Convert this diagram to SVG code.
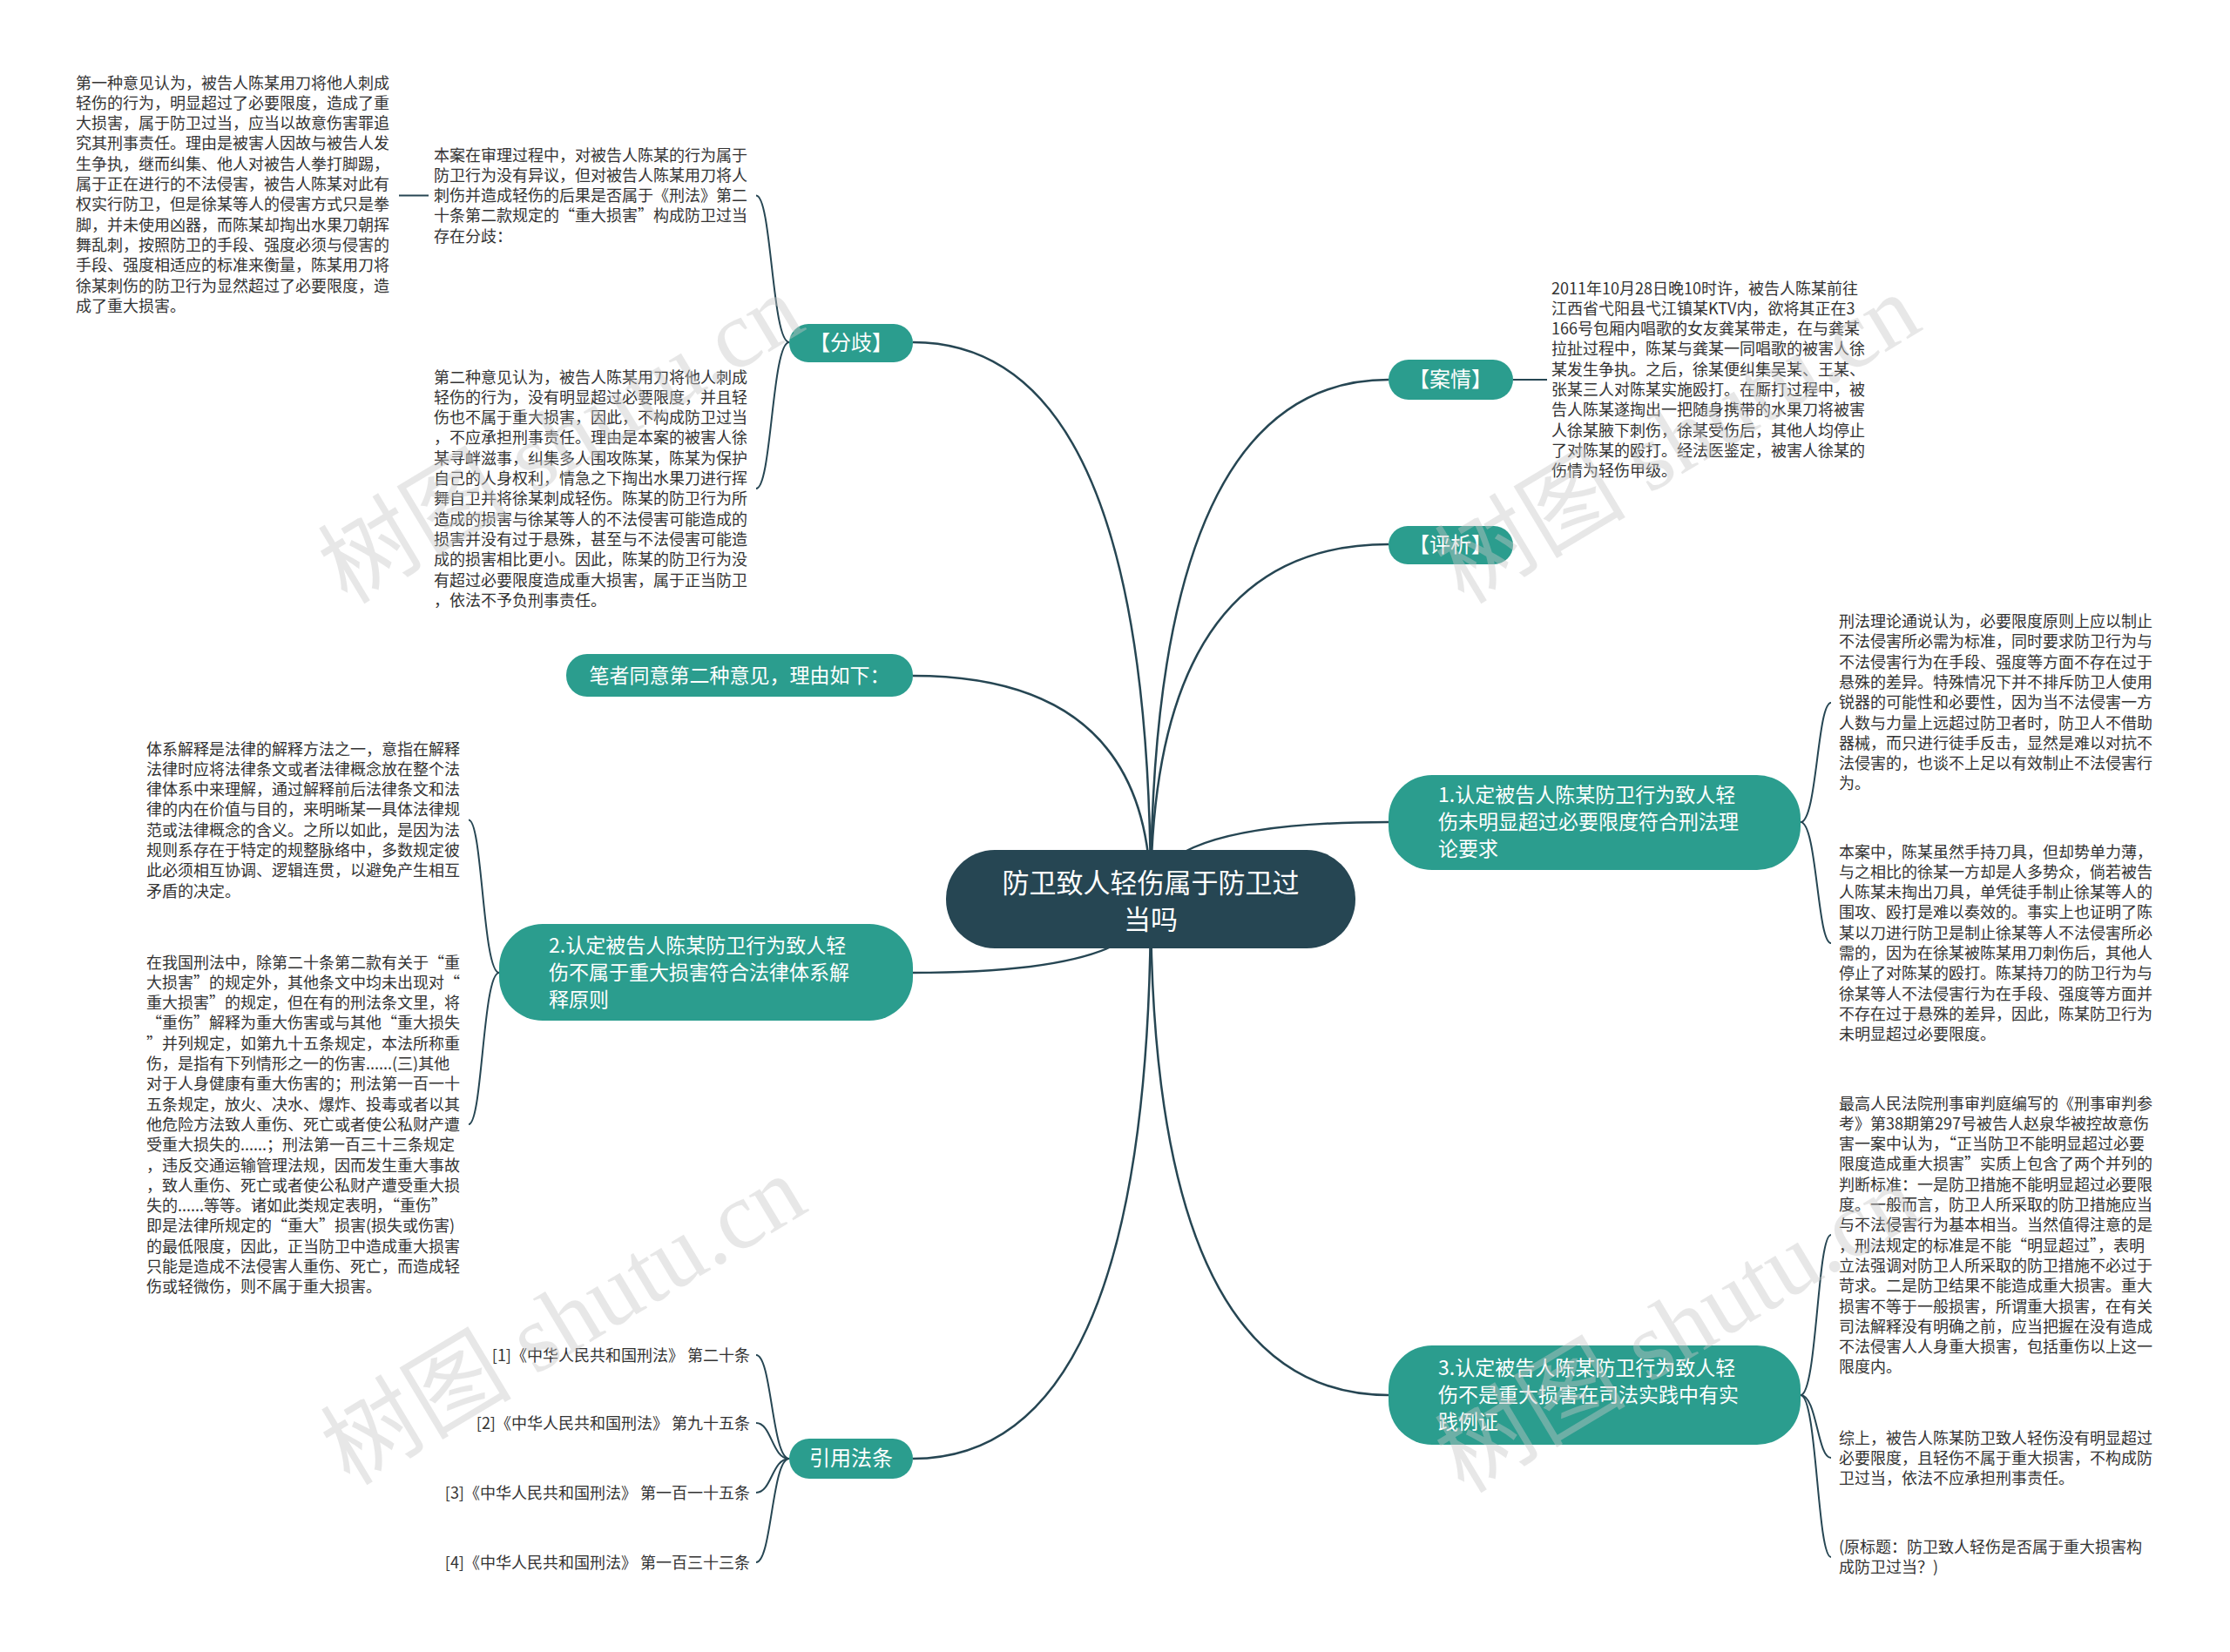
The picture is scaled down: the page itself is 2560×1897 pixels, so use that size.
<svg xmlns="http://www.w3.org/2000/svg" width="2560" height="1897" viewBox="0 0 2560 1897">
<style>
.bg{fill:#ffffff}
.t{font-family:"Noto Sans CJK SC","Microsoft YaHei",sans-serif;font-size:18px;fill:#333333}
.nt{font-family:"Noto Sans CJK SC","Microsoft YaHei",sans-serif;font-size:24px;fill:#ffffff}
.nt2{font-family:"Noto Sans CJK SC","Microsoft YaHei",sans-serif;font-size:23px;fill:#ffffff}
.ct{font-family:"Noto Sans CJK SC","Microsoft YaHei",sans-serif;font-size:31px;fill:#ffffff}
.node{fill:#2b9d8e}
.root{fill:#264653}
.edge{fill:none;stroke:#264653;stroke-width:2.5}
.leaf{fill:none;stroke:#264653;stroke-width:2}
.wm{font-family:"Liberation Serif","Noto Sans CJK SC",serif;font-size:110px;fill:#c8c8c8;opacity:0.42}
</style>
<rect class="bg" x="0" y="0" width="2560" height="1897"/>

<g id="connectors">
<path class="edge" d="M1321 1032 Q1321 393 1048 393"/>
<path class="edge" d="M1321 1032 Q1321 436 1594 436"/>
<path class="edge" d="M1321 1032 Q1321 625 1594 625"/>
<path class="edge" d="M1321 1032 Q1321 776 1048 776"/>
<path class="edge" d="M1321 1032 Q1321 944 1594 944"/>
<path class="edge" d="M1321 1032 Q1321 1117 1048 1117"/>
<path class="edge" d="M1321 1032 Q1321 1602 1594 1602"/>
<path class="edge" d="M1321 1032 Q1321 1675 1048 1675"/>
<path class="leaf" d="M906 393 C886 393 886 224.6 868 224.6"/>
<path class="leaf" d="M906 393 C886 393 886 561 868 561"/>
<path class="leaf" d="M492 224.6 L458 224.6"/>
<path class="leaf" d="M1737 436 L1776 436"/>
<path class="leaf" d="M2067 944 C2086 944 2086 807 2102 807"/>
<path class="leaf" d="M2067 944 C2086 944 2086 1083 2102 1083"/>
<path class="leaf" d="M2067 1602 C2086 1602 2086 1418 2102 1418"/>
<path class="leaf" d="M2067 1602 C2086 1602 2086 1674 2102 1674"/>
<path class="leaf" d="M2067 1602 C2086 1602 2086 1788 2102 1788"/>
<path class="leaf" d="M573 1117 C554 1117 554 941.5 538 941.5"/>
<path class="leaf" d="M573 1117 C554 1117 554 1291 538 1291"/>
<path class="leaf" d="M906 1675 C886 1675 886 1556 868 1556"/>
<path class="leaf" d="M906 1675 C886 1675 886 1634 868 1634"/>
<path class="leaf" d="M906 1675 C886 1675 886 1714 868 1714"/>
<path class="leaf" d="M906 1675 C886 1675 886 1794 868 1794"/>
</g>

<g id="root">
<rect class="root" x="1086" y="976" width="470" height="113" rx="56"/>
<text class="ct" text-anchor="middle"><tspan x="1321" y="1025">防卫致人轻伤属于防卫过</tspan><tspan x="1321" y="1067">当吗</tspan></text>
</g>

<g id="n-fenqi">
<rect class="node" x="906" y="372" width="142" height="44" rx="22"/>
<text class="nt" x="977" y="402" text-anchor="middle">【分歧】</text>
</g>
<g id="n-anqing">
<rect class="node" x="1594" y="413" width="143" height="46" rx="23"/>
<text class="nt" x="1665" y="444" text-anchor="middle">【案情】</text>
</g>
<g id="n-pingxi">
<rect class="node" x="1594" y="604" width="143" height="44" rx="22"/>
<text class="nt" x="1665" y="634" text-anchor="middle">【评析】</text>
</g>
<g id="n-bizhe">
<rect class="node" x="650" y="751" width="398" height="49" rx="24"/>
<text class="nt2" x="849" y="784" text-anchor="middle">笔者同意第二种意见，理由如下：</text>
</g>
<g id="n-1">
<rect class="node" x="1594" y="890" width="473" height="109" rx="50"/>
<text class="nt2"><tspan x="1651" y="921">1.认定被告人陈某防卫行为致人轻</tspan><tspan x="1651" y="952">伤未明显超过必要限度符合刑法理</tspan><tspan x="1651" y="983">论要求</tspan></text>
</g>
<g id="n-2">
<rect class="node" x="573" y="1061" width="475" height="111" rx="50"/>
<text class="nt2"><tspan x="630" y="1094">2.认定被告人陈某防卫行为致人轻</tspan><tspan x="630" y="1125">伤不属于重大损害符合法律体系解</tspan><tspan x="630" y="1156">释原则</tspan></text>
</g>
<g id="n-3">
<rect class="node" x="1594" y="1545" width="473" height="114" rx="50"/>
<text class="nt2"><tspan x="1651" y="1579">3.认定被告人陈某防卫行为致人轻</tspan><tspan x="1651" y="1610">伤不是重大损害在司法实践中有实</tspan><tspan x="1651" y="1641">践例证</tspan></text>
</g>
<g id="n-yinyong">
<rect class="node" x="906" y="1652" width="142" height="46" rx="23"/>
<text class="nt" x="977" y="1683" text-anchor="middle">引用法条</text>
</g>

<g id="leaf-a">
<text class="t"><tspan x="87" y="101.5">第一种意见认为，被告人陈某用刀将他人刺成</tspan><tspan x="87" dy="23.3">轻伤的行为，明显超过了必要限度，造成了重</tspan><tspan x="87" dy="23.3">大损害，属于防卫过当，应当以故意伤害罪追</tspan><tspan x="87" dy="23.3">究其刑事责任。理由是被害人因故与被告人发</tspan><tspan x="87" dy="23.3">生争执，继而纠集、他人对被告人拳打脚踢，</tspan><tspan x="87" dy="23.3">属于正在进行的不法侵害，被告人陈某对此有</tspan><tspan x="87" dy="23.3">权实行防卫，但是徐某等人的侵害方式只是拳</tspan><tspan x="87" dy="23.3">脚，并未使用凶器，而陈某却掏出水果刀朝挥</tspan><tspan x="87" dy="23.3">舞乱刺，按照防卫的手段、强度必须与侵害的</tspan><tspan x="87" dy="23.3">手段、强度相适应的标准来衡量，陈某用刀将</tspan><tspan x="87" dy="23.3">徐某刺伤的防卫行为显然超过了必要限度，造</tspan><tspan x="87" dy="23.3">成了重大损害。</tspan></text>
</g>
<g id="leaf-b">
<text class="t"><tspan x="498" y="184.5">本案在审理过程中，对被告人陈某的行为属于</tspan><tspan x="498" dy="23.3">防卫行为没有异议，但对被告人陈某用刀将人</tspan><tspan x="498" dy="23.3">刺伤并造成轻伤的后果是否属于《刑法》第二</tspan><tspan x="498" dy="23.3">十条第二款规定的“重大损害”构成防卫过当</tspan><tspan x="498" dy="23.3">存在分歧：</tspan></text>
</g>
<g id="leaf-c">
<text class="t"><tspan x="498" y="439.5">第二种意见认为，被告人陈某用刀将他人刺成</tspan><tspan x="498" dy="23.3">轻伤的行为，没有明显超过必要限度，并且轻</tspan><tspan x="498" dy="23.3">伤也不属于重大损害，因此，不构成防卫过当</tspan><tspan x="498" dy="23.3">，不应承担刑事责任。理由是本案的被害人徐</tspan><tspan x="498" dy="23.3">某寻衅滋事，纠集多人围攻陈某，陈某为保护</tspan><tspan x="498" dy="23.3">自己的人身权利，情急之下掏出水果刀进行挥</tspan><tspan x="498" dy="23.3">舞自卫并将徐某刺成轻伤。陈某的防卫行为所</tspan><tspan x="498" dy="23.3">造成的损害与徐某等人的不法侵害可能造成的</tspan><tspan x="498" dy="23.3">损害并没有过于悬殊，甚至与不法侵害可能造</tspan><tspan x="498" dy="23.3">成的损害相比更小。因此，陈某的防卫行为没</tspan><tspan x="498" dy="23.3">有超过必要限度造成重大损害，属于正当防卫</tspan><tspan x="498" dy="23.3">，依法不予负刑事责任。</tspan></text>
</g>
<g id="leaf-d">
<text class="t"><tspan x="1781" y="337.5">2011年10月28日晚10时许，被告人陈某前往</tspan><tspan x="1781" dy="23.3">江西省弋阳县弋江镇某KTV内，欲将其正在3</tspan><tspan x="1781" dy="23.3">166号包厢内唱歌的女友龚某带走，在与龚某</tspan><tspan x="1781" dy="23.3">拉扯过程中，陈某与龚某一同唱歌的被害人徐</tspan><tspan x="1781" dy="23.3">某发生争执。之后，徐某便纠集吴某、王某、</tspan><tspan x="1781" dy="23.3">张某三人对陈某实施殴打。在厮打过程中，被</tspan><tspan x="1781" dy="23.3">告人陈某遂掏出一把随身携带的水果刀将被害</tspan><tspan x="1781" dy="23.3">人徐某腋下刺伤，徐某受伤后，其他人均停止</tspan><tspan x="1781" dy="23.3">了对陈某的殴打。经法医鉴定，被害人徐某的</tspan><tspan x="1781" dy="23.3">伤情为轻伤甲级。</tspan></text>
</g>
<g id="leaf-e">
<text class="t"><tspan x="2111" y="720">刑法理论通说认为，必要限度原则上应以制止</tspan><tspan x="2111" dy="23.3">不法侵害所必需为标准，同时要求防卫行为与</tspan><tspan x="2111" dy="23.3">不法侵害行为在手段、强度等方面不存在过于</tspan><tspan x="2111" dy="23.3">悬殊的差异。特殊情况下并不排斥防卫人使用</tspan><tspan x="2111" dy="23.3">锐器的可能性和必要性，因为当不法侵害一方</tspan><tspan x="2111" dy="23.3">人数与力量上远超过防卫者时，防卫人不借助</tspan><tspan x="2111" dy="23.3">器械，而只进行徒手反击，显然是难以对抗不</tspan><tspan x="2111" dy="23.3">法侵害的，也谈不上足以有效制止不法侵害行</tspan><tspan x="2111" dy="23.3">为。</tspan></text>
</g>
<g id="leaf-f">
<text class="t"><tspan x="2111" y="984.5">本案中，陈某虽然手持刀具，但却势单力薄，</tspan><tspan x="2111" dy="23.3">与之相比的徐某一方却是人多势众，倘若被告</tspan><tspan x="2111" dy="23.3">人陈某未掏出刀具，单凭徒手制止徐某等人的</tspan><tspan x="2111" dy="23.3">围攻、殴打是难以奏效的。事实上也证明了陈</tspan><tspan x="2111" dy="23.3">某以刀进行防卫是制止徐某等人不法侵害所必</tspan><tspan x="2111" dy="23.3">需的，因为在徐某被陈某用刀刺伤后，其他人</tspan><tspan x="2111" dy="23.3">停止了对陈某的殴打。陈某持刀的防卫行为与</tspan><tspan x="2111" dy="23.3">徐某等人不法侵害行为在手段、强度等方面并</tspan><tspan x="2111" dy="23.3">不存在过于悬殊的差异，因此，陈某防卫行为</tspan><tspan x="2111" dy="23.3">未明显超过必要限度。</tspan></text>
</g>
<g id="leaf-g">
<text class="t"><tspan x="2111" y="1273.5">最高人民法院刑事审判庭编写的《刑事审判参</tspan><tspan x="2111" dy="23.3">考》第38期第297号被告人赵泉华被控故意伤</tspan><tspan x="2111" dy="23.3">害一案中认为，“正当防卫不能明显超过必要</tspan><tspan x="2111" dy="23.3">限度造成重大损害”实质上包含了两个并列的</tspan><tspan x="2111" dy="23.3">判断标准：一是防卫措施不能明显超过必要限</tspan><tspan x="2111" dy="23.3">度。一般而言，防卫人所采取的防卫措施应当</tspan><tspan x="2111" dy="23.3">与不法侵害行为基本相当。当然值得注意的是</tspan><tspan x="2111" dy="23.3">，刑法规定的标准是不能“明显超过”，表明</tspan><tspan x="2111" dy="23.3">立法强调对防卫人所采取的防卫措施不必过于</tspan><tspan x="2111" dy="23.3">苛求。二是防卫结果不能造成重大损害。重大</tspan><tspan x="2111" dy="23.3">损害不等于一般损害，所谓重大损害，在有关</tspan><tspan x="2111" dy="23.3">司法解释没有明确之前，应当把握在没有造成</tspan><tspan x="2111" dy="23.3">不法侵害人人身重大损害，包括重伤以上这一</tspan><tspan x="2111" dy="23.3">限度内。</tspan></text>
</g>
<g id="leaf-h">
<text class="t"><tspan x="2111" y="1657.5">综上，被告人陈某防卫致人轻伤没有明显超过</tspan><tspan x="2111" dy="23.3">必要限度，且轻伤不属于重大损害，不构成防</tspan><tspan x="2111" dy="23.3">卫过当，依法不应承担刑事责任。</tspan></text>
</g>
<g id="leaf-i">
<text class="t"><tspan x="2111" y="1782.5">(原标题：防卫致人轻伤是否属于重大损害构</tspan><tspan x="2111" dy="23.3">成防卫过当？)</tspan></text>
</g>
<g id="leaf-j">
<text class="t"><tspan x="168" y="866.5">体系解释是法律的解释方法之一，意指在解释</tspan><tspan x="168" dy="23.3">法律时应将法律条文或者法律概念放在整个法</tspan><tspan x="168" dy="23.3">律体系中来理解，通过解释前后法律条文和法</tspan><tspan x="168" dy="23.3">律的内在价值与目的，来明晰某一具体法律规</tspan><tspan x="168" dy="23.3">范或法律概念的含义。之所以如此，是因为法</tspan><tspan x="168" dy="23.3">规则系存在于特定的规整脉络中，多数规定彼</tspan><tspan x="168" dy="23.3">此必须相互协调、逻辑连贯，以避免产生相互</tspan><tspan x="168" dy="23.3">矛盾的决定。</tspan></text>
</g>
<g id="leaf-k">
<text class="t"><tspan x="168" y="1111.5">在我国刑法中，除第二十条第二款有关于“重</tspan><tspan x="168" dy="23.3">大损害”的规定外，其他条文中均未出现对“</tspan><tspan x="168" dy="23.3">重大损害”的规定，但在有的刑法条文里，将</tspan><tspan x="168" dy="23.3">“重伤”解释为重大伤害或与其他“重大损失</tspan><tspan x="168" dy="23.3">”并列规定，如第九十五条规定，本法所称重</tspan><tspan x="168" dy="23.3">伤，是指有下列情形之一的伤害......(三)其他</tspan><tspan x="168" dy="23.3">对于人身健康有重大伤害的；刑法第一百一十</tspan><tspan x="168" dy="23.3">五条规定，放火、决水、爆炸、投毒或者以其</tspan><tspan x="168" dy="23.3">他危险方法致人重伤、死亡或者使公私财产遭</tspan><tspan x="168" dy="23.3">受重大损失的......；刑法第一百三十三条规定</tspan><tspan x="168" dy="23.3">，违反交通运输管理法规，因而发生重大事故</tspan><tspan x="168" dy="23.3">，致人重伤、死亡或者使公私财产遭受重大损</tspan><tspan x="168" dy="23.3">失的......等等。诸如此类规定表明，“重伤”</tspan><tspan x="168" dy="23.3">即是法律所规定的“重大”损害(损失或伤害)</tspan><tspan x="168" dy="23.3">的最低限度，因此，正当防卫中造成重大损害</tspan><tspan x="168" dy="23.3">只能是造成不法侵害人重伤、死亡，而造成轻</tspan><tspan x="168" dy="23.3">伤或轻微伤，则不属于重大损害。</tspan></text>
</g>
<g id="leaf-cite">
<text class="t" text-anchor="end"><tspan x="861" y="1562.5">[1]《中华人民共和国刑法》 第二十条</tspan><tspan x="861" y="1640.5">[2]《中华人民共和国刑法》 第九十五条</tspan><tspan x="861" y="1720.5">[3]《中华人民共和国刑法》 第一百一十五条</tspan><tspan x="861" y="1800.5">[4]《中华人民共和国刑法》 第一百三十三条</tspan></text>
</g>

<g id="watermarks">
<text class="wm" text-anchor="middle" transform="translate(645 506) rotate(-31)" y="35">树图 shutu.cn</text>
<text class="wm" text-anchor="middle" transform="translate(1927 506) rotate(-31)" y="35">树图 shutu.cn</text>
<text class="wm" text-anchor="middle" transform="translate(648 1518) rotate(-31)" y="35">树图 shutu.cn</text>
<text class="wm" text-anchor="middle" transform="translate(1927 1527) rotate(-31)" y="35">树图 shutu.cn</text>
</g>
</svg>
